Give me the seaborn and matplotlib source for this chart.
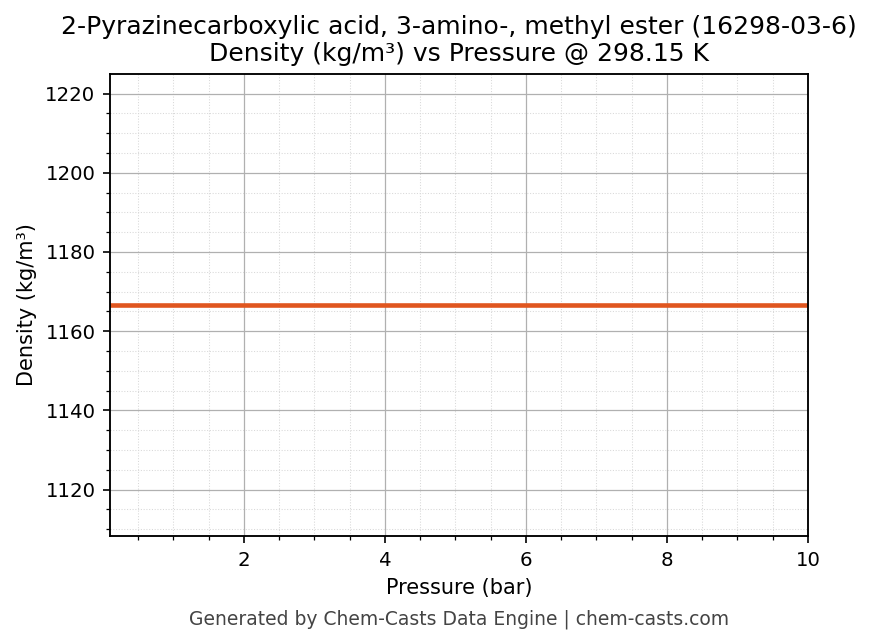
import numpy as np
import pandas as pd
import seaborn as sns
import matplotlib
matplotlib.use("Agg")
import matplotlib.pyplot as plt
from matplotlib.ticker import AutoMinorLocator, MultipleLocator

pressure_bar = [0.1, 1.0, 2.0, 3.0, 4.0, 5.0, 6.0, 7.0, 8.0, 9.0, 10.0]
density = [1166.6] * len(pressure_bar)

df = pd.DataFrame({"Pressure (bar)": pressure_bar, "Density": density})

plt.rcParams['font.family'] = ['DejaVu Sans']

fig, ax = plt.subplots(figsize=(872 / 150, 644 / 150), dpi=150)
sns.lineplot(data=df, x="Pressure (bar)", y="Density", ax=ax, color="#E0561F", linewidth=2.2)

mean = float(np.mean(density))
ax.set_xlim(min(pressure_bar), max(pressure_bar))
ax.set_ylim(mean * 0.95, mean * 1.05)
ax.xaxis.set_major_locator(MultipleLocator(2))
ax.xaxis.set_minor_locator(AutoMinorLocator(4))
ax.yaxis.set_major_locator(MultipleLocator(20))
ax.yaxis.set_minor_locator(AutoMinorLocator(4))
ax.grid(which="major", color="#b0b0b0", linewidth=0.6)
ax.grid(which="minor", color="#d8d8d8", linestyle=":", linewidth=0.5)
ax.tick_params(which="major", labelsize=9.5, length=3.5, width=0.8, colors="black")
ax.tick_params(which="minor", length=2, width=0.6, colors="black")
ax.set_xlabel("Pressure (bar)", fontsize=10, color="black")
ax.set_ylabel("Density (kg/m³)", fontsize=10, color="black")
ax.set_title("2-Pyrazinecarboxylic acid, 3-amino-, methyl ester (16298-03-6)\nDensity (kg/m³) vs Pressure @ 298.15 K", fontsize=12, color="black")
for s in ax.spines.values():
    s.set_visible(True)
    s.set_color("black")
    s.set_linewidth(0.9)

fig.subplots_adjust(left=110 / 872, right=808 / 872, top=1 - 74 / 644, bottom=1 - 536 / 644)
fig.text(459 / 872, 1 - 619 / 644, "Generated by Chem-Casts Data Engine | chem-casts.com", ha="center", va="center", fontsize=9, color="#444444")
fig.savefig("out.png", dpi=150)
